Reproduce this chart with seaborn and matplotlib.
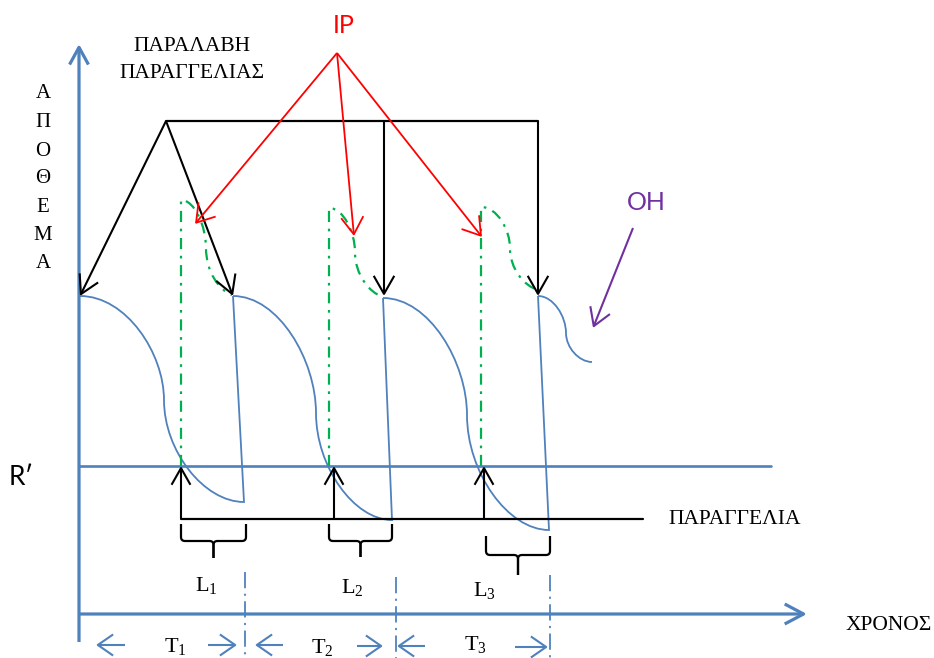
import matplotlib
matplotlib.use("Agg")
import matplotlib.pyplot as plt
import seaborn as sns
from matplotlib.path import Path
from matplotlib.patches import PathPatch

# ---------------- data (diagram coordinates, pixel space, y downward) -------------
cycle_start_x = [80, 233, 383]
cycle_start_y = [296, 296, 298]
inflect_x = [164, 316, 467]
inflect_y = [400, 413, 415]
cycle_end_x = [244, 392, 549]
cycle_end_y = [502, 520, 530]
restock_x = [233, 383, 538]
restock_y = [296, 298, 296]
tail_curve = [(538, 296), (566, 333), (592, 362)]

ip_x = [181, 329, 481]
ip_top_y = [200, 208, 207]
ip_inflect = [(206, 248), (355, 252), (510, 248)]
ip_arrive = [(232, 295), (383, 297), (538, 290)]

reorder_level = 466
order_level = 519
order_line_x = [181, 643]
reorder_line_x = [79, 771]
order_arrow_x = [181, 334, 484]

receipt_apex = (166, 121)
receipt_line_x = [166, 538]
receipt_targets = [(80, 296), (233, 296), (384, 296), (538, 296)]

ip_origin = (337, 53)
ip_targets = [(195, 224), (354, 236), (482, 237)]

oh_arrow = [(633, 228), (593, 328)]

brace_x0 = [181, 329, 486]
brace_x1 = [246, 392, 550]
brace_top = [524, 524, 536]
brace_mid = [541, 541, 555]
brace_tip = [558, 557, 575]

period_x = [245, 396, 550]
period_top = [572, 577, 575]

L_labels = ["$\\mathregular{L_1}$", "$\\mathregular{L_2}$", "$\\mathregular{L_3}$"]
L_pos = [(206, 591), (352, 593), (484, 596)]
T_labels = ["$\\mathregular{T_1}$", "$\\mathregular{T_2}$", "$\\mathregular{T_3}$"]
T_pos = [(175, 652), (322, 653), (475, 650)]
T_arrows = [((125, 645), (96, 645)), ((208, 645), (237, 645)),
            ((283, 645), (255, 645)), ((357, 646), (383, 646)),
            ((425, 646), (397, 646)), ((515, 647), (548, 647))]

stock_letters = ["Α", "Π", "Ο", "Θ", "Ε", "Μ", "Α"]
stock_baselines = [98, 127, 156, 183, 212, 240, 268]

# ---------------- styling -------------
BLUE = "#4F81BD"
GREEN = "#00B050"
RED = "#FF0000"
PURPLE = "#7030A0"

sns.set_theme(style="white")
plt.rcParams["font.family"] = ["Liberation Serif", "DejaVu Sans"]
plt.rcParams["text.color"] = "black"
plt.rcParams["mathtext.fontset"] = "custom"
plt.rcParams["mathtext.rm"] = "Liberation Serif"
plt.rcParams["mathtext.it"] = "Liberation Serif:italic"

fig = plt.figure(figsize=(9.34, 6.58), dpi=100)
ax = fig.add_axes([0, 0, 1, 1])

SANS = ["Lato", "DejaVu Sans"]
SERIF = ["Liberation Serif", "DejaVu Sans"]


def arrow(tail, tip, color, lw, hl=0.65, hw=0.37):
    ax.annotate("", xy=tip, xytext=tail, xycoords="data", textcoords="data",
                arrowprops=dict(arrowstyle=f"->,head_length={hl},head_width={hw}",
                                color=color, lw=lw, shrinkA=0, shrinkB=0,
                                mutation_scale=20, capstyle="butt"))


def s_curve(p0, pi, pe, ka=0.5, kb=0.5, end_slope=0.0):
    verts = [p0,
             (p0[0] + ka * (pi[0] - p0[0]), p0[1]),
             (pi[0], p0[1] + ka * (pi[1] - p0[1])),
             pi,
             (pi[0], pi[1] + kb * (pe[1] - pi[1])),
             (pi[0] + kb * (pe[0] - pi[0]), pe[1] - end_slope * (pe[1] - pi[1])),
             pe]
    codes = [Path.MOVETO] + [Path.CURVE4] * 6
    return verts, codes


# axes (blue arrows)
arrow((79, 642), (79, 44), BLUE, 2.3, hl=0.62, hw=0.34)
arrow((79, 614), (807, 614), BLUE, 2.3, hl=0.68, hw=0.36)

# reorder level and order line
sns.lineplot(x=reorder_line_x, y=[reorder_level] * 2, ax=ax, color=BLUE, lw=1.9)
sns.lineplot(x=order_line_x, y=[order_level] * 2, ax=ax, color="black", lw=1.6)

# inventory cycles (blue)
for i in range(3):
    v, c = s_curve((cycle_start_x[i], cycle_start_y[i]), (inflect_x[i], inflect_y[i]),
                   (cycle_end_x[i], cycle_end_y[i]), ka=0.55, kb=0.5)
    v = v + [(restock_x[i], restock_y[i])]
    c = c + [Path.LINETO]
    ax.add_patch(PathPatch(Path(v, c), fill=False, ec=BLUE, lw=1.3))
v, c = s_curve(tail_curve[0], tail_curve[1], tail_curve[2], ka=0.55, kb=0.5)
ax.add_patch(PathPatch(Path(v, c), fill=False, ec=BLUE, lw=1.3))

# inventory position (green dash-dot)
for i in range(3):
    v, c = s_curve((ip_x[i], ip_top_y[i]), ip_inflect[i], ip_arrive[i],
                   ka=0.55, kb=0.5, end_slope=0.1)
    v = [(ip_x[i], reorder_level)] + v
    c = [Path.MOVETO, Path.LINETO] + c[1:]
    ax.add_patch(PathPatch(Path(v, c), fill=False, ec=GREEN, lw=1.6,
                           linestyle=(0, (5, 3, 1.2, 3))))

# order arrows (black, upward)
for x in order_arrow_x:
    arrow((x, order_level), (x, reorder_level), "black", 1.5, hl=0.6, hw=0.34)

# receipt arrows (black)
sns.lineplot(x=receipt_line_x, y=[receipt_apex[1]] * 2, ax=ax, color="black", lw=1.6)
arrow(receipt_apex, receipt_targets[0], "black", 1.5)
arrow(receipt_apex, receipt_targets[1], "black", 1.5)
for tx, ty in receipt_targets[2:]:
    arrow((tx, receipt_apex[1]), (tx, ty), "black", 1.5)

# IP arrows (red)
for t in ip_targets:
    arrow(ip_origin, t, RED, 1.3, hl=0.62, hw=0.4)

# OH arrow (purple)
arrow(oh_arrow[0], oh_arrow[1], PURPLE, 1.5, hl=0.62, hw=0.38)

# braces
for x0, x1, yt, ym, yb in zip(brace_x0, brace_x1, brace_top, brace_mid, brace_tip):
    xc = (x0 + x1) / 2
    r = 4
    for xa, sgn in ((x0, 1), (x1, -1)):
        verts = [(xa, yt), (xa, ym - r), (xa, ym), (xa + sgn * r, ym),
                 (xc - sgn * r, ym), (xc, ym), (xc, ym + r), (xc, yb)]
        codes = [Path.MOVETO, Path.LINETO, Path.CURVE3, Path.CURVE3,
                 Path.LINETO, Path.CURVE3, Path.CURVE3, Path.LINETO]
        ax.add_patch(PathPatch(Path(verts, codes), fill=False, ec="black", lw=1.6))

# period markers (blue dash-dot)
for x, yt in zip(period_x, period_top):
    ax.plot([x, x], [yt, 660], color=BLUE, lw=1.3, linestyle=(0, (9, 3, 1.2, 3)))

# T arrows
for tail, tip in T_arrows:
    arrow(tail, tip, BLUE, 1.5, hl=0.55, hw=0.38)

# texts
for s, (x, y) in zip(L_labels, L_pos):
    ax.text(x, y, s, fontsize=16, family=SERIF, ha="center", va="baseline")
for s, (x, y) in zip(T_labels, T_pos):
    ax.text(x, y, s, fontsize=16, family=SERIF, ha="center", va="baseline")
for s, y in zip(stock_letters, stock_baselines):
    ax.text(43, y, s, fontsize=15, family=SERIF, ha="center", va="baseline")

ax.text(192, 51, "ΠΑΡΑΛΑΒΗ", fontsize=15.5, family=SERIF, ha="center", va="baseline")
ax.text(192, 78, "ΠΑΡΑΓΓΕΛΙΑΣ", fontsize=15.5, family=SERIF, ha="center", va="baseline")
ax.text(668, 524, "ΠΑΡΑΓΓΕΛΙΑ", fontsize=15.5, family=SERIF, ha="left", va="baseline")
ax.text(846, 630, "ΧΡΟΝΟΣ", fontsize=15.5, family=SERIF, ha="left", va="baseline")

ax.text(344, 33, "IP", fontsize=18, family=SANS, color=RED, ha="center", va="baseline")
ax.text(646, 210, "OH", fontsize=18, family=SANS, color=PURPLE, ha="center", va="baseline")
ax.text(21, 485, "R′", fontsize=19, family=SANS, color="black", ha="center", va="baseline")

ax.set_xlim(0, 934)
ax.set_ylim(658, 0)
ax.axis("off")
fig.savefig("out.png", dpi=100)
